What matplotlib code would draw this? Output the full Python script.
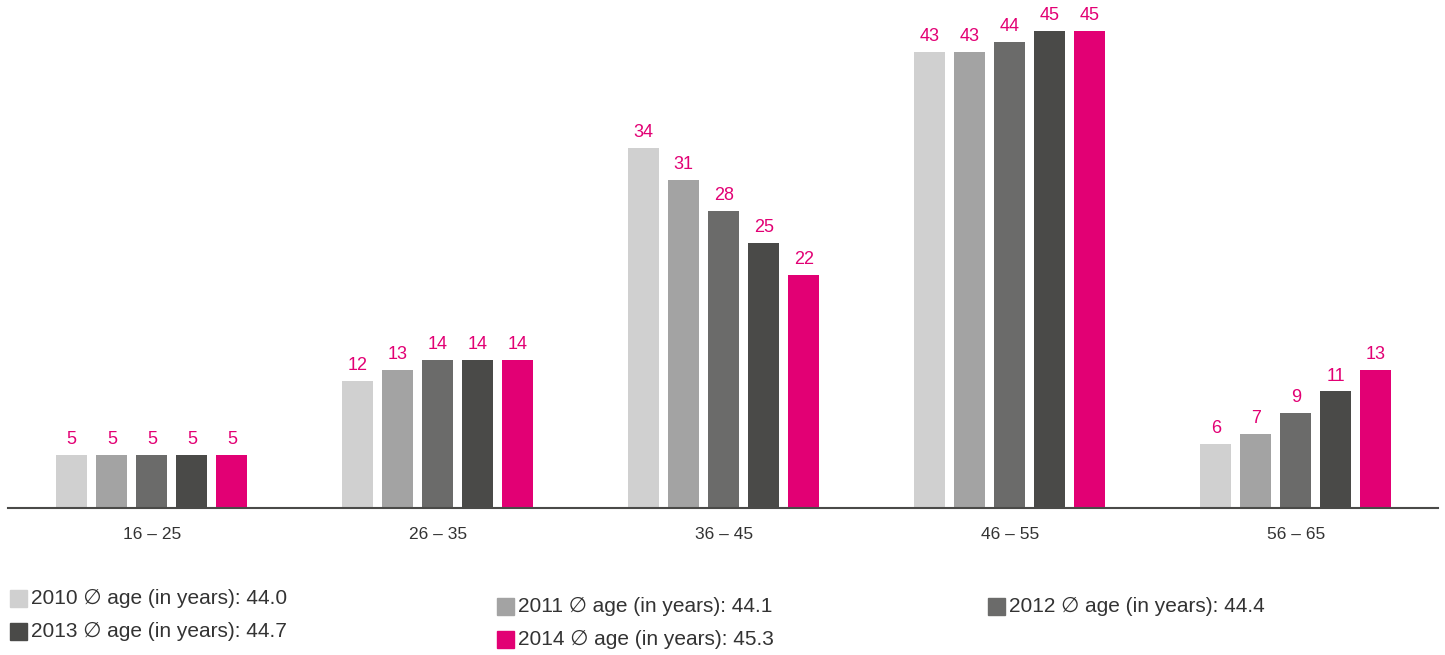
import numpy as np
import matplotlib
matplotlib.use('Agg')
import matplotlib.pyplot as plt
from matplotlib.patches import Rectangle

plt.rcParams['font.family'] = ['Liberation Sans', 'DejaVu Sans']

age_groups = ['16 – 25', '26 – 35', '36 – 45', '46 – 55', '56 – 65']
years = ['2010', '2011', '2012', '2013', '2014']
avg_age = ['44.0', '44.1', '44.4', '44.7', '45.3']
share_2010 = [5, 12, 34, 43, 6]
share_2011 = [5, 13, 31, 43, 7]
share_2012 = [5, 14, 28, 44, 9]
share_2013 = [5, 14, 25, 45, 11]
share_2014 = [5, 14, 22, 45, 13]
series = [share_2010, share_2011, share_2012, share_2013, share_2014]
colors = ['#d0d0d0', '#a3a3a3', '#6b6b6a', '#4a4a48', '#e20074']
pink = '#e20074'

W, H = 1445, 655
fig = plt.figure(figsize=(W / 100, H / 100), dpi=100)
ax = fig.add_axes([8 / W, (H - 508) / H, 1430 / W, 498 / H])

x = np.arange(len(age_groups))
step = 0.14
width = 0.108
for i, vals in enumerate(series):
    pos = x + (i - 2) * step
    ax.bar(pos, vals, width=width, color=colors[i], zorder=2)
    for p, v in zip(pos, vals):
        ax.annotate(str(v), (p, v), xytext=(0, 5), textcoords='offset points',
                    ha='center', va='bottom', color=pink, fontsize=13)

ax.set_xlim(-0.503, 4.497)
ax.set_ylim(0, 47)
for s in ['top', 'right', 'left']:
    ax.spines[s].set_visible(False)
ax.spines['bottom'].set_color('#4a4a48')
ax.spines['bottom'].set_linewidth(1.5)
ax.set_yticks([])
ax.set_xticks(x)
ax.set_xticklabels(age_groups, fontsize=12.5, color='#333333')
ax.tick_params(axis='x', length=0, pad=14)

# legend, laid out like the original
legend_pos = [(10, 598), (497, 606), (988, 606), (10, 631), (497, 639)]
sq = 17
for i, (lx, ly) in enumerate(legend_pos):
    fig.add_artist(Rectangle((lx / W, (H - ly - sq / 2) / H), sq / W, sq / H,
                             transform=fig.transFigure, color=colors[i]))
    fig.text((lx + sq + 4) / W, (H - ly) / H,
             f'{years[i]} ∅ age (in years): {avg_age[i]}',
             fontsize=15, color='#333333', va='center', ha='left')

fig.savefig('out.png', dpi=100)
